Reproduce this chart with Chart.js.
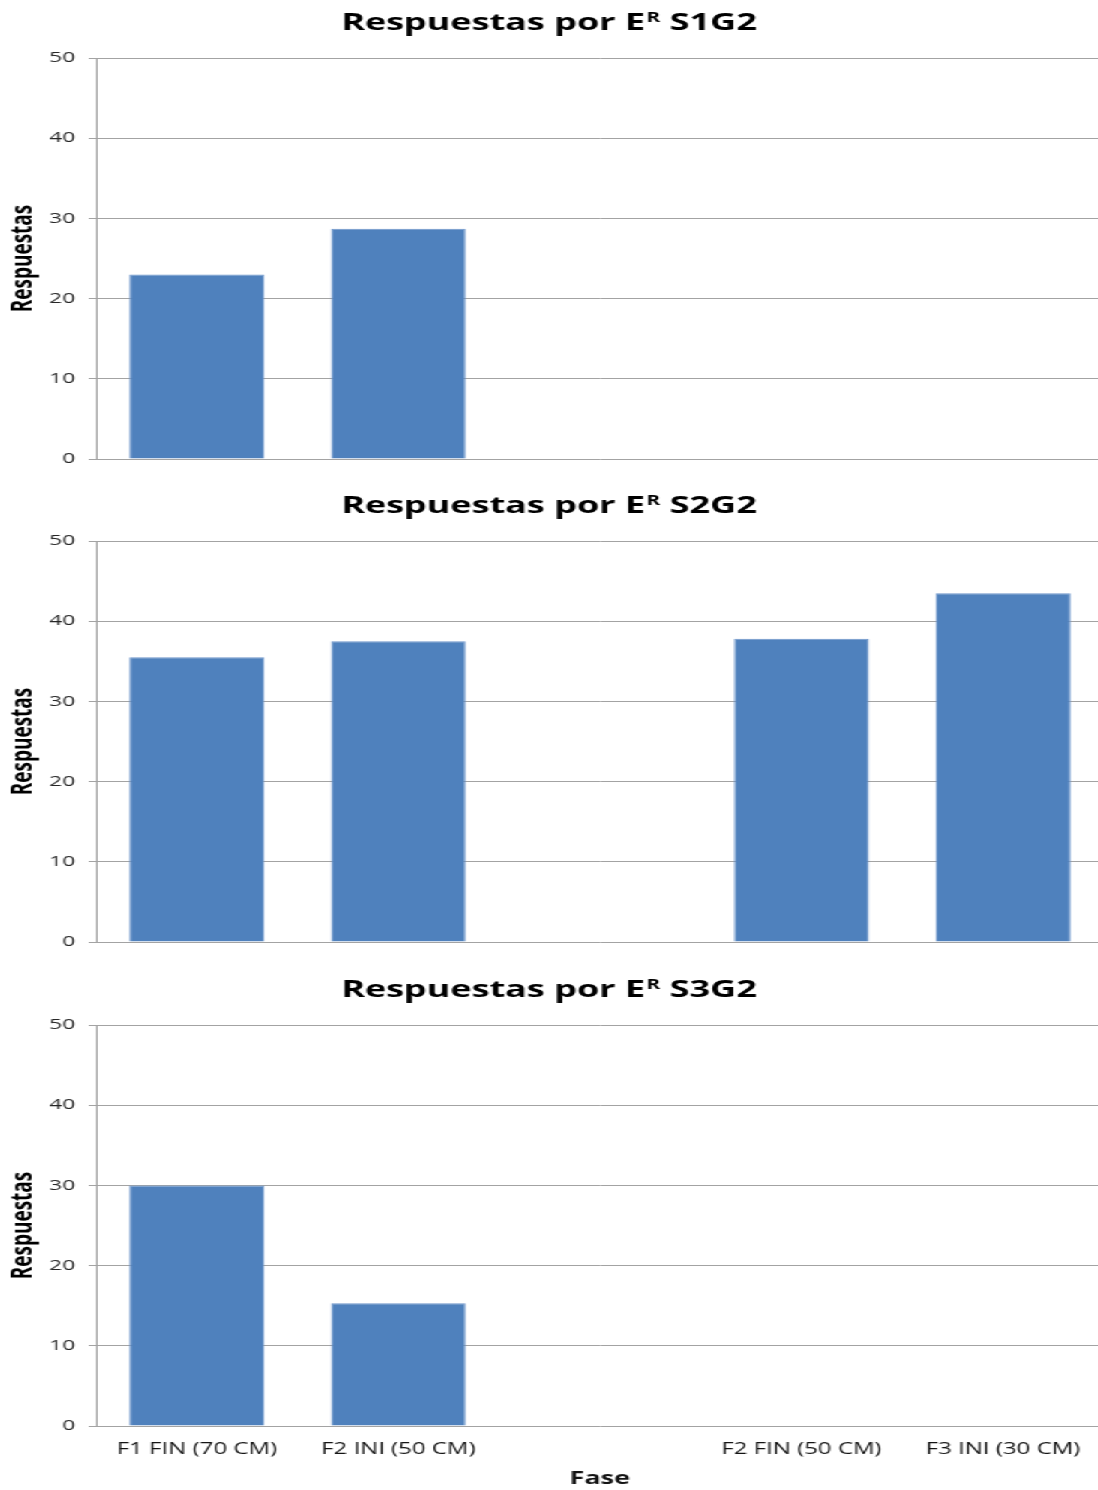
<!DOCTYPE html>
<html>
<head>
<meta charset="utf-8">
<script src="https://cdn.jsdelivr.net/npm/chart.js@4.4.1/dist/chart.umd.min.js"></script>
<style>
  html, body { margin: 0; padding: 0; background: #fff; overflow: hidden; }
  /* the plot runs a little past the right edge of the page */
  #stage { width: 736px; transform: scaleX(1.5); transform-origin: 0 0; }
  canvas { display: block; }
</style>
</head>
<body>
<div id="stage">
  <canvas id="c1" width="736" height="483"></canvas>
  <canvas id="c2" width="736" height="483"></canvas>
  <canvas id="c3" width="736" height="524"></canvas>
</div>
<script>
// Phases (the third slot is intentionally left blank)
const fases = ['F1 FIN (70 CM)', 'F2 INI (50 CM)', '', 'F2 FIN (50 CM)', 'F3 INI (30 CM)'];

// Responses per subject
const s1g2 = [23, 28.7, null, null, null];
const s2g2 = [35.5, 37.5, null, 37.8, 43.5];
const s3g2 = [30, 15.3, null, null, null];

// Panel codes shown in each title
const panelCodes = ['S1G2', 'S2G2', 'S3G2'];

// Value axis
const yMin = 0;
const yMax = 50;
const yStep = 10;

const titleHead = 'Respuestas por E';
const titleSup = 'R';
const yAxisTitle = 'Respuestas';
const xAxisTitle = 'Fase';

// visible width of the page in canvas units (before the horizontal stretch)
const visibleWidth = 732;

// Draws "Respuestas por E^R Sx" with a raised R
const panelTitle = {
  id: 'panelTitle',
  afterDraw(chart, args, opts) {
    const ctx = chart.ctx;
    const bigFont = 'bold 24px "Open Sans"';
    const supFont = 'bold 14px "Open Sans"';
    const tail = ' ' + opts.code;
    ctx.save();
    ctx.fillStyle = '#000';
    ctx.textBaseline = 'alphabetic';
    ctx.font = bigFont;
    const w1 = ctx.measureText(titleHead).width;
    const w3 = ctx.measureText(tail).width;
    ctx.font = supFont;
    const w2 = ctx.measureText(titleSup).width + 1;
    let x = visibleWidth / 2 - (w1 + w2 + w3) / 2;
    const y = opts.baseline;
    ctx.font = bigFont;
    ctx.fillText(titleHead, x, y);
    x += w1;
    ctx.font = supFont;
    ctx.fillText(titleSup, x + 1, y - 8);
    x += w2;
    ctx.font = bigFont;
    ctx.fillText(tail, x, y);
    ctx.restore();
  }
};

function makePanel(id, code, values, showX, topPad, xHeight, baseline) {
  return new Chart(document.getElementById(id), {
    type: 'bar',
    data: {
      labels: fases,
      datasets: [{
        data: values,
        backgroundColor: '#4F81BD',
        borderColor: '#6E96CB',
        borderWidth: { top: 1, left: 1, right: 1, bottom: 0 },
        barPercentage: 0.67,
        categoryPercentage: 1
      }]
    },
    options: {
      responsive: false,
      animation: false,
      devicePixelRatio: 1,
      layout: { padding: { top: topPad, left: 0, right: 0, bottom: 0 } },
      plugins: {
        legend: { display: false },
        tooltip: { enabled: false },
        title: { display: false },
        panelTitle: { code: code, baseline: baseline }
      },
      scales: {
        x: {
          grid: { display: false, drawTicks: false },
          border: { display: false },
          ticks: {
            display: showX,
            padding: 14,
            autoSkip: false,
            maxRotation: 0,
            color: '#141414',
            font: { family: 'Open Sans', size: 16 }
          },
          title: {
            display: showX,
            text: xAxisTitle,
            color: '#141414',
            font: { family: 'Open Sans', size: 18, weight: 'bold' },
            padding: { top: 0, bottom: 0 }
          },
          afterFit(scale) { scale.height = xHeight; }
        },
        y: {
          min: yMin,
          max: yMax,
          ticks: {
            stepSize: yStep,
            padding: 9,
            color: '#262626',
            font: { family: 'Open Sans', size: 15 }
          },
          grid: { color: '#a3a3a3', lineWidth: 1, drawTicks: true, tickLength: 5 },
          border: { display: true, color: '#a3a3a3' },
          title: {
            display: true,
            text: yAxisTitle,
            color: '#000',
            font: { family: 'Open Sans', size: 19, weight: 'bold' },
            padding: { top: 4, bottom: 0 }
          },
          afterFit(scale) { scale.width = 64; }
        }
      }
    },
    plugins: [panelTitle]
  });
}

makePanel('c1', panelCodes[0], s1g2, false, 58, 24, 30);
makePanel('c2', panelCodes[1], s2g2, false, 58, 24, 30);
makePanel('c3', panelCodes[2], s3g2, true, 59, 64, 31);
</script>
</body>
</html>
